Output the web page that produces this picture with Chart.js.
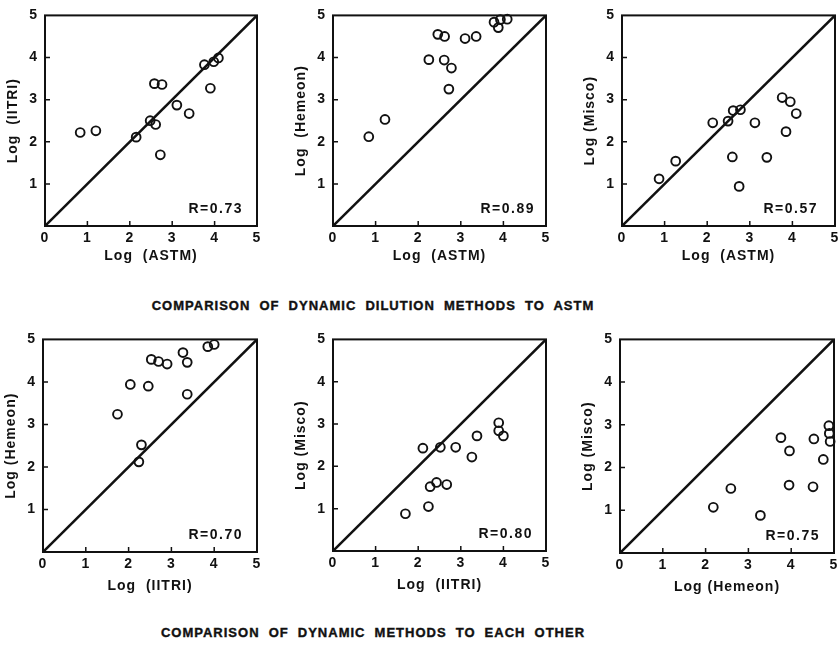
<!DOCTYPE html>
<html lang="en">
<head>
<meta charset="UTF-8">
<title>Comparison of dynamic dilution methods</title>
<script src="https://cdn.jsdelivr.net/npm/chart.js"></script>
<style>
  html, body { margin: 0; padding: 0; background: #fff; overflow: hidden; }
  body { width: 838px; height: 647px; position: relative; }
  canvas { position: absolute; }
  .caption {
    position: absolute; left: 0; width: 746px; text-align: center;
    font: bold 13px "Liberation Sans", Arial, sans-serif;
    letter-spacing: 1px; word-spacing: 4.5px; line-height: 16px;
    white-space: pre; color: #111; -webkit-text-stroke: 0.4px #111;
  }
</style>
</head>
<body>
<div class="caption" style="top:298px">COMPARISON OF DYNAMIC DILUTION METHODS TO ASTM</div>
<div class="caption" style="top:625px">COMPARISON OF DYNAMIC METHODS TO EACH OTHER</div>
<script>
// values (log units)
const p1Astm   = [0.83, 1.20, 2.15, 2.48, 2.61, 2.58, 2.76, 2.72, 3.11, 3.40, 3.76, 3.98, 4.09, 3.90];
const p1Iitri  = [2.22, 2.26, 2.11, 2.50, 2.41, 3.38, 3.36, 1.69, 2.87, 2.67, 3.83, 3.90, 3.99, 3.27];

const p2Astm   = [0.84, 1.22, 2.25, 2.46, 2.62, 2.61, 2.78, 2.72, 3.10, 3.36, 3.78, 3.93, 3.88, 4.09];
const p2Hemeon = [2.12, 2.53, 3.95, 4.55, 4.50, 3.94, 3.75, 3.25, 4.45, 4.50, 4.84, 4.90, 4.71, 4.91];

const p3Astm   = [0.87, 1.26, 2.13, 2.49, 2.61, 2.78, 2.59, 2.75, 3.12, 3.40, 3.76, 3.95, 4.09, 3.85];
const p3Misco  = [1.12, 1.54, 2.45, 2.49, 2.74, 2.76, 1.64, 0.94, 2.45, 1.63, 3.05, 2.95, 2.67, 2.24];

const p4Iitri  = [1.74, 2.04, 2.46, 2.24, 2.30, 2.53, 2.70, 2.90, 3.27, 3.37, 3.37, 3.85, 4.00];
const p4Hemeon = [3.24, 3.94, 3.90, 2.12, 2.52, 4.53, 4.48, 4.42, 4.69, 4.46, 3.71, 4.83, 4.88];

const p5Iitri  = [1.70, 2.24, 2.11, 2.28, 2.43, 2.67, 2.52, 2.88, 3.26, 3.38, 3.89, 3.89, 4.00];
const p5Misco  = [0.88, 1.05, 2.43, 1.52, 1.62, 1.57, 2.45, 2.45, 2.22, 2.72, 3.03, 2.84, 2.72];

const p6Hemeon = [2.18, 2.59, 3.28, 3.76, 3.96, 3.95, 4.53, 4.51, 4.75, 4.88, 4.89, 4.91];
const p6Misco  = [1.07, 1.51, 0.88, 2.70, 2.39, 1.59, 2.67, 1.55, 2.19, 2.98, 2.80, 2.61];

const xSeries = [p1Astm, p2Astm, p3Astm, p4Iitri, p5Iitri, p6Hemeon];
const ySeries = [p1Iitri, p2Hemeon, p3Misco, p4Hemeon, p5Misco, p6Misco];

const xTitles = ['Log  (ASTM)', 'Log  (ASTM)', 'Log  (ASTM)', 'Log  (IITRI)', 'Log  (IITRI)', 'Log (Hemeon)'];
const yTitles = ['Log  (IITRI)', 'Log  (Hemeon)', 'Log (Misco)', 'Log (Hemeon)', 'Log (Misco)', 'Log (Misco)'];
const rValues = ['0.73', '0.89', '0.57', '0.70', '0.80', '0.75'];

const axisRange = [0, 5];          // 1:1 line runs corner to corner
const innerTicks = [1, 2, 3, 4];

// panel layout: plot box in page pixels [left, top, right, bottom]
const panels = [
  { box: [45, 12, 257, 226],  xPad: 5, rOff: 14 },
  { box: [333, 12, 546, 226], xPad: 5, rOff: 11 },
  { box: [622, 12, 835, 226], xPad: 5, rOff: 17 },
  { box: [43, 336, 257, 552], xPad: 1, rOff: 14 },
  { box: [333, 336, 546, 551], xPad: 1, rOff: 13 },
  { box: [620, 336, 834, 553], xPad: 1, rOff: 14 }
];

const INK = '#111';
const FONT = '"Liberation Sans", Arial, sans-serif';
const AXIS_W = 45, AXIS_H = 44, PAD_T = 12, PAD_R = 8;

const framePlugin = {
  id: 'frame',
  beforeDraw(chart) { chart.ctx.letterSpacing = '1px'; },
  beforeDatasetsDraw(chart) {
    const { ctx, chartArea: a, scales: { x, y } } = chart;
    ctx.save();
    ctx.strokeStyle = INK;
    ctx.lineWidth = 2;
    ctx.strokeRect(a.left, a.top, a.width, a.height);
    ctx.lineWidth = 1.5;
    ctx.beginPath();
    innerTicks.forEach(v => {
      const px = x.getPixelForValue(v);
      ctx.moveTo(px, a.bottom); ctx.lineTo(px, a.bottom - 5);
      const py = y.getPixelForValue(v);
      ctx.moveTo(a.left, py); ctx.lineTo(a.left + 5, py);
    });
    ctx.stroke();
    ctx.restore();
  },
  afterDatasetsDraw(chart, args, opts) {
    const { ctx, chartArea: a } = chart;
    ctx.save();
    ctx.font = 'bold 14px ' + FONT;
    ctx.letterSpacing = '1.5px';
    ctx.fillStyle = INK;
    ctx.textAlign = 'right';
    ctx.textBaseline = 'middle';
    ctx.fillText('R=' + opts.r, a.right - opts.rOff, a.bottom - 17);
    ctx.restore();
  }
};

function makePanel(i) {
  const p = panels[i];
  const [L, T, R, B] = p.box;
  const cv = document.createElement('canvas');
  cv.width = (R - L) + AXIS_W + PAD_R;
  cv.height = (B - T) + PAD_T + AXIS_H;
  cv.style.left = (L - AXIS_W) + 'px';
  cv.style.top = (T - PAD_T) + 'px';
  document.body.appendChild(cv);

  const pts = xSeries[i].map((v, k) => ({ x: v, y: ySeries[i][k] }));
  const diag = axisRange.map(v => ({ x: v, y: v }));
  const tickFont = { family: FONT, size: 14, weight: 'bold' };

  new Chart(cv, {
    type: 'scatter',
    data: {
      datasets: [
        {
          type: 'line', data: diag, borderColor: INK, borderWidth: 2.5,
          pointRadius: 0, fill: false
        },
        {
          data: pts, pointRadius: 4.4, borderWidth: 1.9,
          borderColor: INK, backgroundColor: 'rgba(0,0,0,0)', clip: false
        }
      ]
    },
    options: {
      responsive: false,
      animation: false,
      devicePixelRatio: 1,
      layout: { padding: { top: PAD_T, right: PAD_R, left: 0, bottom: 0 } },
      plugins: {
        legend: { display: false },
        tooltip: { enabled: false },
        frame: { r: rValues[i], rOff: p.rOff }
      },
      scales: {
        x: {
          type: 'linear', min: 0, max: 5,
          grid: { display: false, drawTicks: false },
          border: { display: false },
          ticks: { stepSize: 1, padding: 4, color: INK, font: tickFont, maxRotation: 0 },
          title: {
            display: true, text: xTitles[i], color: INK, font: tickFont,
            padding: { top: 0, bottom: p.xPad }
          },
          afterFit(s) { s.height = AXIS_H; }
        },
        y: {
          type: 'linear', min: 0, max: 5,
          grid: { display: false, drawTicks: false },
          border: { display: false },
          ticks: {
            stepSize: 1, padding: 7, color: INK, font: tickFont,
            callback: v => (v === 0 ? '' : v)
          },
          title: {
            display: true, text: yTitles[i], color: INK, font: tickFont,
            padding: { top: 5, bottom: 0 }
          },
          afterFit(s) { s.width = AXIS_W; }
        }
      }
    },
    plugins: [framePlugin]
  });
}

panels.forEach((p, i) => makePanel(i));
</script>
</body>
</html>
